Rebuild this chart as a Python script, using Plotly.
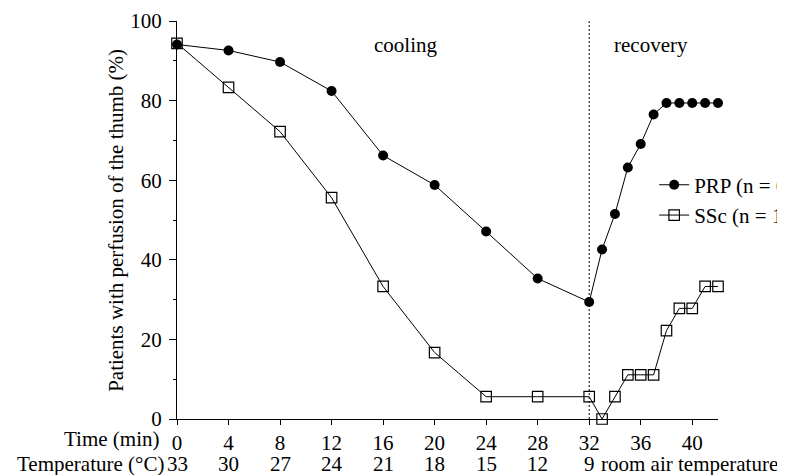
import plotly.graph_objects as go

# Data
time_prp = [0, 4, 8, 12, 16, 20, 24, 28, 32, 33, 34, 35, 36, 37, 38, 39, 40, 41, 42]
prp = [94.1, 92.6, 89.7, 82.4, 66.2, 58.8, 47.1, 35.3, 29.4, 42.6, 51.5, 63.2, 69.1, 76.5,
       79.4, 79.4, 79.4, 79.4, 79.4]
time_ssc = [0, 4, 8, 12, 16, 20, 24, 28, 32, 33, 34, 35, 36, 37, 38, 39, 40, 41, 42]
ssc = [94.4, 83.3, 72.2, 55.6, 33.3, 16.7, 5.6, 5.6, 5.6, 0.0, 5.6, 11.1, 11.1, 11.1,
       22.2, 27.8, 27.8, 33.3, 33.3]

time_ticks = [0, 4, 8, 12, 16, 20, 24, 28, 32, 36, 40]
temp_labels = ["33", "30", "27", "24", "21", "18", "15", "12", "9"]
temp_positions = [0, 4, 8, 12, 16, 20, 24, 28, 32]
y_ticks = [0, 20, 40, 60, 80, 100]

FONT = "Times New Roman, Liberation Serif, serif"
FS = 21

fig = go.Figure()
fig.add_trace(go.Scatter(
    x=time_prp, y=prp, mode="lines+markers", name="PRP (n = 68)",
    line=dict(color="black", width=1),
    marker=dict(symbol="circle", size=10, color="black"),
    cliponaxis=False,
))
fig.add_trace(go.Scatter(
    x=time_ssc, y=ssc, mode="lines+markers", name="SSc (n = 18)",
    line=dict(color="black", width=1),
    marker=dict(symbol="square-open", size=10.5, color="black", line=dict(width=1.2)),
    cliponaxis=False,
))

# dotted separator between cooling and recovery
fig.add_shape(type="line", x0=32, x1=32, y0=0, y1=100, xref="x", yref="y",
              line=dict(color="black", width=1, dash="2px,2px"))

TY = -0.113
annotations = []
annotations.append(dict(text="cooling", x=17.75, y=94, xref="x", yref="y",
                        showarrow=False, font=dict(family=FONT, size=FS, color="black")))
annotations.append(dict(text="recovery", x=36.8, y=94, xref="x", yref="y",
                        showarrow=False, font=dict(family=FONT, size=FS, color="black")))
annotations.append(dict(text="Time (min)", x=-0.031, y=-0.05, xref="paper", yref="paper",
                        xanchor="right", yanchor="middle", showarrow=False, borderpad=0,
                        font=dict(family=FONT, size=FS, color="black")))
annotations.append(dict(text="Temperature (°C)", x=-0.023, y=TY, xref="paper", yref="paper",
                        xanchor="right", yanchor="middle", showarrow=False, borderpad=0,
                        font=dict(family=FONT, size=FS, color="black")))
for pos, lab in zip(temp_positions, temp_labels):
    annotations.append(dict(text=lab, x=pos, y=TY, xref="x", yref="paper",
                            xanchor="center", yanchor="middle", showarrow=False, borderpad=0,
                            font=dict(family=FONT, size=FS, color="black")))
annotations.append(dict(text="room air temperature", x=32.8, y=TY, xref="x", yref="paper",
                        xanchor="left", yanchor="middle", showarrow=False, borderpad=0,
                        font=dict(family=FONT, size=FS, color="black")))
annotations.append(dict(text="Patients with perfusion of the thumb (%)", x=-0.113, y=0.5,
                        xref="paper", yref="paper", xanchor="center", yanchor="middle",
                        textangle=-90, showarrow=False,
                        font=dict(family=FONT, size=FS, color="black")))

fig.update_layout(
    width=785, height=475,
    margin=dict(l=169, r=75, t=13, b=64, autoexpand=False),
    paper_bgcolor="white", plot_bgcolor="white",
    font=dict(family=FONT, size=FS, color="black"),
    showlegend=True,
    legend=dict(x=0.882, y=0.55, xanchor="left", yanchor="middle",
                bgcolor="rgba(0,0,0,0)", font=dict(family=FONT, size=FS, color="black"),
                itemwidth=30, tracegroupgap=0),
    annotations=annotations,
    xaxis=dict(range=[0, 42], tickmode="array", tickvals=time_ticks,
               ticktext=[str(t) for t in time_ticks],
               showline=True, linecolor="black", linewidth=1,
               ticks="outside", ticklen=5, tickcolor="black", tickwidth=1,
               showgrid=False, zeroline=False,
               tickfont=dict(family=FONT, size=FS, color="black")),
    yaxis=dict(range=[0, 100], tickmode="array", tickvals=y_ticks,
               showline=True, linecolor="black", linewidth=1,
               ticks="outside", ticklen=7, tickcolor="black", tickwidth=1,
               ticklabelstandoff=3,
               minor=dict(tickvals=[10, 30, 50, 70, 90], ticks="outside", ticklen=3,
                          tickcolor="black", tickwidth=1, showgrid=False),
               showgrid=False, zeroline=False,
               tickfont=dict(family=FONT, size=FS, color="black")),
)

fig.write_html("out.html")
